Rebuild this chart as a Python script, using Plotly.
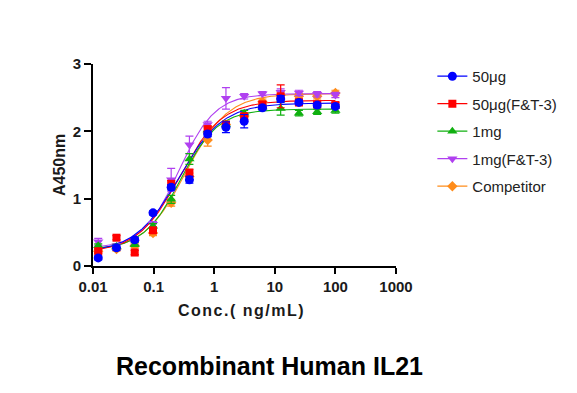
import numpy as np
import plotly.graph_objects as go

# ---- data ----
conc = [0.0122, 0.0244, 0.0488, 0.0977, 0.195, 0.39, 0.78, 1.5625, 3.125, 6.25, 12.5, 25, 50, 100]
series_names = ["50μg", "50μg(F&T-3)", "1mg", "1mg(F&T-3)", "Competitor"]

y_50ug = [0.12, 0.27, 0.39, 0.79, 1.17, 1.28, 1.96, 2.06, 2.15, 2.35, 2.48, 2.43, 2.39, 2.37]
y_50ug_ft3 = [0.22, 0.42, 0.20, 0.53, 1.22, 1.38, 2.03, 2.10, 2.22, 2.40, 2.52, 2.43, 2.40, 2.39]
y_1mg = [0.30, 0.29, 0.32, 0.59, 0.99, 1.59, 2.02, 2.10, 2.27, 2.36, 2.34, 2.27, 2.29, 2.31]
y_1mg_ft3 = [0.36, 0.30, 0.35, 0.62, 1.28, 1.80, 2.10, 2.49, 2.52, 2.56, 2.58, 2.57, 2.55, 2.54]
y_comp = [0.22, 0.25, 0.30, 0.49, 0.94, 1.33, 1.87, 2.10, 2.22, 2.44, 2.54, 2.52, 2.52, 2.57]

e_50ug = [0.03, 0.04, 0.03, 0.03, 0.04, 0.05, 0.04, 0.08, 0.10, 0.03, 0.05, 0.03, 0.03, 0.03]
e_50ug_ft3 = [0.03, 0.03, 0.03, 0.04, 0.05, 0.06, 0.05, 0.04, 0.05, 0.04, 0.17, 0.05, 0.04, 0.04]
e_1mg = [0.03, 0.03, 0.03, 0.04, 0.06, 0.08, 0.05, 0.05, 0.04, 0.03, 0.10, 0.04, 0.04, 0.04]
e_1mg_ft3 = [0.05, 0.03, 0.03, 0.04, 0.17, 0.13, 0.05, 0.16, 0.04, 0.03, 0.05, 0.04, 0.04, 0.04]
e_comp = [0.03, 0.03, 0.03, 0.04, 0.05, 0.05, 0.09, 0.04, 0.04, 0.04, 0.05, 0.04, 0.04, 0.04]

# 4PL fit parameters (bottom, top, EC50, Hill)
fit_bottom = [0.20, 0.20, 0.24, 0.26, 0.22]
fit_top = [2.42, 2.46, 2.33, 2.56, 2.56]
fit_ec50 = [0.26, 0.27, 0.28, 0.26, 0.34]
fit_hill = [1.20, 1.25, 1.40, 1.45, 1.25]

x_ticks = [0.01, 0.1, 1, 10, 100, 1000]
x_tick_labels = ["0.01", "0.1", "1", "10", "100", "1000"]
y_ticks = [0, 1, 2, 3]

# ---- style ----
colors = ["#0000FF", "#FF0000", "#10B010", "#B040F0", "#FF8C1A"]
symbols = ["circle", "square", "triangle-up", "triangle-down", "diamond"]
sizes = [9, 8, 9, 9, 8]
ys = [y_50ug, y_50ug_ft3, y_1mg, y_1mg_ft3, y_comp]
es = [e_50ug, e_50ug_ft3, e_1mg, e_1mg_ft3, e_comp]

FONT = "Arial, 'Liberation Sans', sans-serif"

fig = go.Figure()
xc = np.logspace(np.log10(conc[0]), np.log10(conc[-1]), 300)
order = [4, 3, 2, 1, 0]  # draw 50μg last (on top)
for i in order:
    yc = fit_bottom[i] + (fit_top[i] - fit_bottom[i]) / (1 + (fit_ec50[i] / xc) ** fit_hill[i])
    fig.add_trace(go.Scatter(x=xc, y=yc, mode="lines", line=dict(color=colors[i], width=1.1),
                             showlegend=False, hoverinfo="skip", cliponaxis=False))
for i in order:
    fig.add_trace(go.Scatter(
        x=conc, y=ys[i], name=series_names[i], mode="markers",
        marker=dict(color=colors[i], symbol=symbols[i], size=sizes[i], line=dict(width=0)),
        error_y=dict(type="data", array=es[i], color=colors[i], thickness=1.2, width=4),
        showlegend=False, cliponaxis=False,
    ))
# legend entries (line + marker)
for i in range(5):
    fig.add_trace(go.Scatter(x=[None], y=[None], mode="lines+markers", name=series_names[i],
                             line=dict(color=colors[i], width=1.2),
                             marker=dict(color=colors[i], symbol=symbols[i], size=sizes[i]),
                             legendrank=i + 1, legendgroup=series_names[i], showlegend=True))

fig.update_layout(
    width=577, height=393,
    margin=dict(l=93, r=181, t=64, b=127, pad=0),
    paper_bgcolor="white", plot_bgcolor="white",
    font=dict(family=FONT, color="#1a1a1a"),
    showlegend=True,
    legend=dict(x=1.12, y=1.02, xanchor="left", yanchor="top",
                font=dict(family=FONT, size=15, color="#222"),
                tracegroupgap=5, itemwidth=30, bgcolor="rgba(0,0,0,0)"),
    xaxis=dict(type="log", range=[-2, 3], tickvals=x_ticks, ticktext=x_tick_labels,
               showgrid=False, zeroline=False, showline=True, linecolor="black", linewidth=2,
               ticks="outside", ticklen=6, tickwidth=2, tickcolor="black",
               tickfont=dict(family=FONT, size=15, color="#1a1a1a", weight="bold")),
    yaxis=dict(range=[0, 3], tickvals=y_ticks, showgrid=False, zeroline=False,
               showline=True, linecolor="black", linewidth=2,
               ticks="outside", ticklen=7, tickwidth=2, tickcolor="black",
               tickfont=dict(family=FONT, size=15, color="#1a1a1a", weight="bold")),
    annotations=[
        dict(text="<b><span style='letter-spacing:1.5px'>Conc.( ng/mL)</span></b>",
             xref="paper", yref="paper", x=0.49, y=0,
             yshift=-44, showarrow=False, font=dict(family=FONT, size=16, color="#1a1a1a"),
             xanchor="center", yanchor="middle"),
        dict(text="<b>A450nm</b>", xref="paper", yref="paper", x=0, y=0.5, xshift=-34,
             showarrow=False, textangle=-90, font=dict(family=FONT, size=16, color="#1a1a1a"),
             xanchor="center", yanchor="middle"),
        dict(text="<b>Recombinant Human IL21</b>", xref="paper", yref="paper", x=0.584, y=0,
             yshift=-100, showarrow=False, font=dict(family=FONT, size=25, color="black"),
             xanchor="center", yanchor="middle"),
    ],
)

fig.write_html("out.html", config={"displayModeBar": False},
               post_script="document.body.style.margin='0';")
